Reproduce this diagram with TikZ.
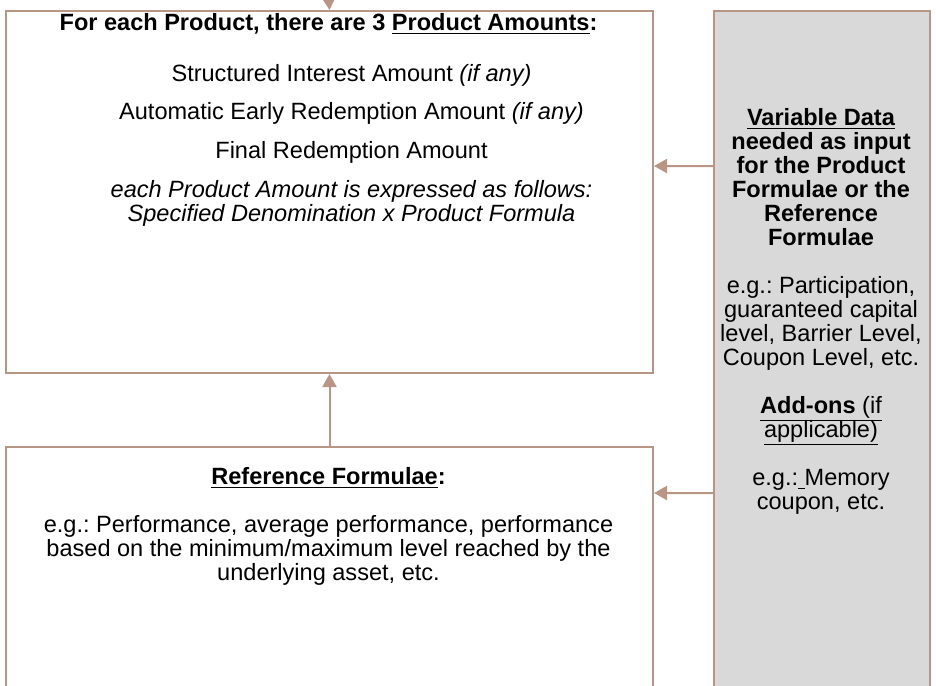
\documentclass[tikz,border=0pt]{standalone}
\usepackage{fontspec}
\setmainfont{Liberation Sans}
\usetikzlibrary{arrows.meta,positioning}
\definecolor{boxline}{RGB}{185,149,133}
\definecolor{boxgray}{RGB}{217,217,217}
\newcommand{\diagfont}{\fontsize{13.4pt}{13.66pt}\selectfont\lineskiplimit=-1cm\relax}
\frenchspacing

\begin{document}
\begin{tikzpicture}[
  box/.style={draw=boxline, line width=0.04cm, inner sep=0pt, anchor=north west},
  txt/.style={anchor=base, align=center, inner sep=0pt, font=\diagfont},
  feed/.style={draw=boxline, line width=0.04cm, -{Triangle[width=0.28cm,length=0.26cm]}}]
  \useasboundingbox (0.00, 0.00) rectangle (18.72, -13.70);
  \node[box, minimum width=12.94cm, minimum height=7.24cm] (amounts) at (0.10, -0.20) {};
  \node[box, minimum width=12.94cm, minimum height=4.90cm] (formulae) at (0.10, -8.92) {};
  \node[box, fill=boxgray, minimum width=4.32cm, minimum height=13.70cm] (data) at (14.26, -0.20) {};
  \coordinate (top) at (6.57, 0.10);

  \node[txt] (amountstitle) at (6.57, -0.61) {\textbf{For each Product, there are 3 \underline{Product Amounts}:}};
  \node[txt] (amountstext) at (7.03, -4.43) {Structured Interest Amount \textit{(if any)}\\[0.28cm]
    Automatic Early Redemption Amount \textit{(if any)}\\[0.30cm]
    Final Redemption Amount\\[0.30cm]
    \textit{each Product Amount is expressed as follows:}\\
    \textit{Specified Denomination x Product Formula}};
  \node[txt] (formulaetext) at (6.57, -11.61) {\textbf{\underline{Reference Formulae}:}\\[0.48cm]
    e.g.: Performance, average performance, performance\\
    based on the minimum/maximum level reached by the\\
    underlying asset, etc.};
  \node[txt] (datatext) at (16.42, -10.19) {\textbf{\underline{Variable Data}}\\
    \textbf{needed as input}\\
    \textbf{for the Product}\\
    \textbf{Formulae or the}\\
    \textbf{Reference}\\
    \textbf{Formulae}\\[0.48cm]
    e.g.: Participation,\\
    guaranteed capital\\
    level, Barrier Level,\\
    Coupon Level, etc.\\[0.48cm]
    \underline{\textbf{Add-ons} (if}\\
    \underline{applicable)}\\[0.48cm]
    e.g.:\underline{\ }Memory\\
    coupon, etc.};

  \draw[feed] (top) -- (amounts.north);
  \draw[feed] ([yshift=3.75cm]data.west) -- ([yshift=0.52cm]amounts.east);
  \draw[feed] ([yshift=-2.79cm]data.west) -- ([yshift=1.53cm]formulae.east);
  \draw[feed] (formulae.north) -- (amounts.south);
\end{tikzpicture}
\end{document}
